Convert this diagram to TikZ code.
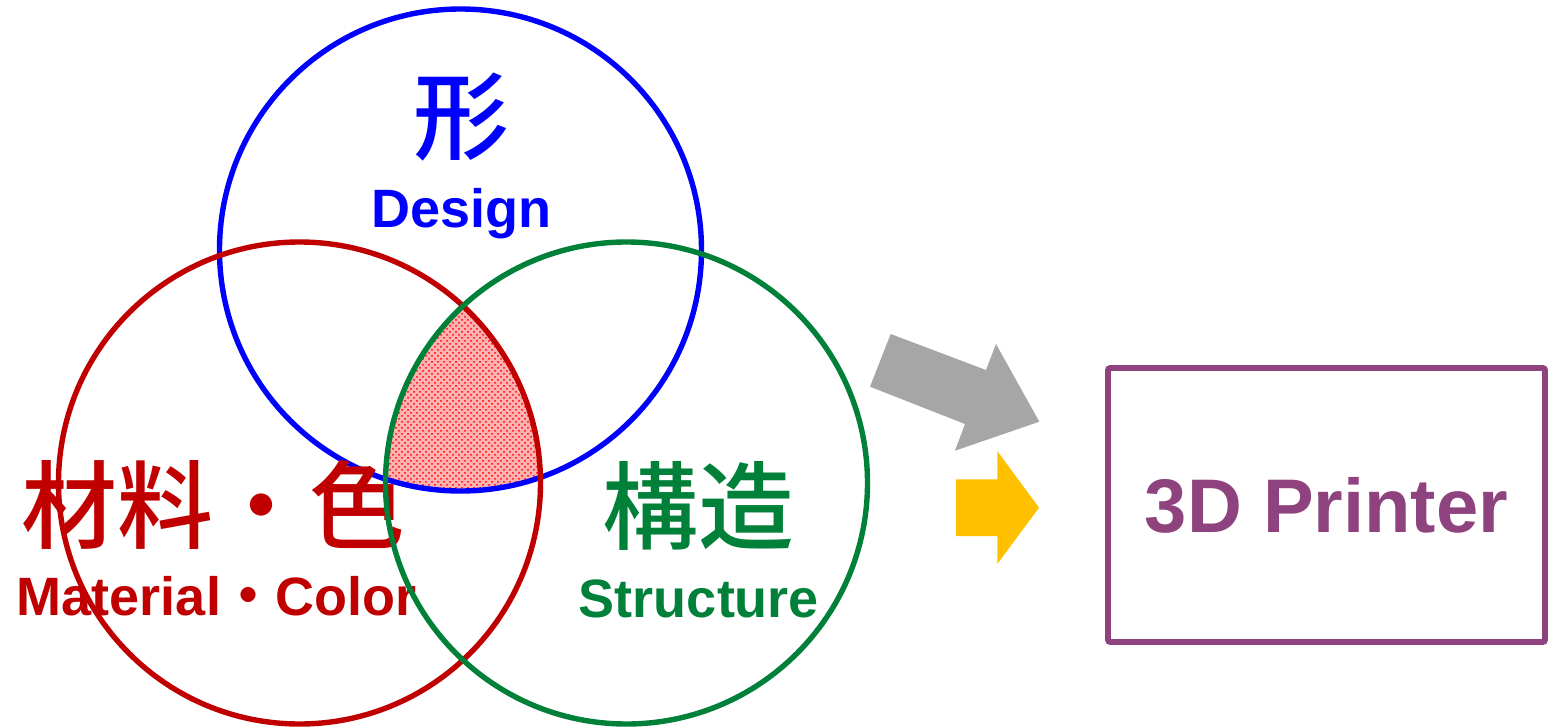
\documentclass[tikz,border=0pt]{standalone}
\usepackage{fontspec}
\setmainfont{Liberation Sans}
\newfontfamily\jpfont{Noto Sans CJK JP Medium}
\usepackage{tikz}
\usetikzlibrary{patterns}
\definecolor{vennblue}{RGB}{0,0,255}
\definecolor{vennred}{RGB}{192,0,0}
\definecolor{venngreen}{RGB}{0,128,56}
\definecolor{printerpurple}{RGB}{143,67,126}
\definecolor{arrowgray}{RGB}{166,166,166}
\definecolor{arrowyellow}{RGB}{255,192,0}
\def\rvenn{241}

\begin{document}
\begin{tikzpicture}[
  x=0.5pt, y=-0.5pt,
  ring/.style={
    line width=2.7pt
  },
  jplabel/.style={
    font=\jpfont\fontsize{48}{48}\selectfont,
    inner sep=0pt
  },
  enlabel/.style={
    font=\bfseries\fontsize{27}{27}\selectfont,
    inner sep=0pt,
    anchor=base
  },
  printerbox/.style={
    draw=printerpurple,
    line width=2.8pt,
    rounded corners=1pt,
    minimum width=218.5pt,
    minimum height=137pt,
    text=printerpurple,
    font=\bfseries\fontsize{38}{38}\selectfont
  }
]
\useasboundingbox (0,0) rectangle (1549,728);

\coordinate (cdesign) at (460.5,250);
\coordinate (cmaterial) at (299.5,483);
\coordinate (cstructure) at (626.5,483);

% common part of the three circles
\begin{scope}
  \clip (cdesign) circle[radius=\rvenn];
  \clip (cmaterial) circle[radius=\rvenn];
  \fill[red!30] (cstructure) circle[radius=\rvenn];
  \fill[pattern=crosshatch dots, pattern color=red] (cstructure) circle[radius=\rvenn];
\end{scope}

\draw[ring, vennblue] (cdesign) circle[radius=\rvenn];

\node[jplabel, text=vennblue] (shape) at (461,117) {形};
\node[enlabel, text=vennblue] (design) at (461.5,227) {Design};
\node[jplabel, text=vennred] (material) at (213.5,505) {材料・色};
\node[enlabel, text=vennred] (materialen) at (216.5,615) {Material{\jpfont ・}Color};
\node[jplabel, text=venngreen] (structure) at (698,506) {構造};
\node[enlabel, text=venngreen] (structureen) at (699,617) {Structure};

\draw[ring, vennred] (cmaterial) circle[radius=\rvenn];
\draw[ring, venngreen] (cstructure) circle[radius=\rvenn];

% arrows
\fill[arrowgray] (890.7,334) -- (986,370) -- (996,344) -- (1039.3,421.7)
  -- (955,450.7) -- (965,424) -- (870,386.7) -- cycle;
\fill[arrowyellow] (956,479.3) -- (997.3,479.3) -- (997.3,451) -- (1039,507.7)
  -- (997.3,564) -- (997.3,536) -- (956,536) -- cycle;

\node[printerbox] (printer) at (1326.5,505) {3D Printer};

\end{tikzpicture}
\end{document}
